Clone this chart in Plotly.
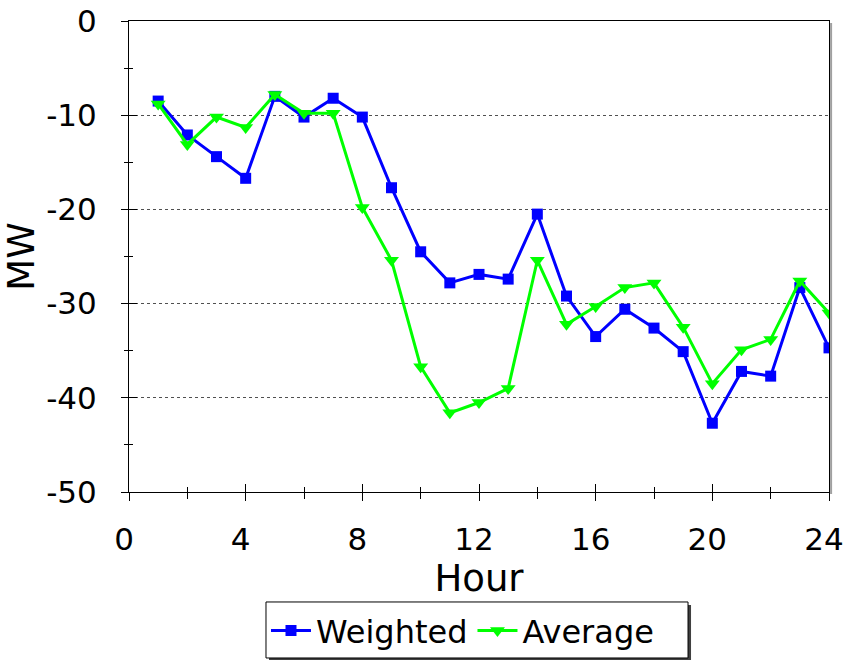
import plotly.graph_objects as go

# hourly values
hours = list(range(1, 25))
weighted = [-8.5, -12.1, -14.4, -16.7, -8.0, -10.2, -8.2, -10.2, -17.7, -24.5, -27.8, -26.9,
            -27.4, -20.5, -29.2, -33.5, -30.6, -32.6, -35.1, -42.7, -37.2, -37.7, -28.3, -34.7]
average = [-8.8, -13.1, -10.2, -11.3, -7.8, -9.8, -9.8, -19.8, -25.4, -36.7, -41.6, -40.5,
           -39.0, -25.4, -32.2, -30.3, -28.3, -27.8, -32.5, -38.5, -34.9, -33.8, -27.6, -31.0]

x_ticks = [0, 4, 8, 12, 16, 20, 24]
y_ticks = [0, -10, -20, -30, -40, -50]
y_labels = ['0', '-10', '-20', '-30', '-40', '-50']

FONT = 'DejaVu Sans, Arial, sans-serif'

fig = go.Figure()
fig.add_trace(go.Scatter(x=hours, y=weighted, name='Weighted', mode='lines+markers',
                         line=dict(color='#0000FF', width=3),
                         marker=dict(symbol='square', size=11, color='#0000FF')))
fig.add_trace(go.Scatter(x=hours, y=average, name='Average', mode='lines+markers',
                         line=dict(color='#00FF00', width=3),
                         marker=dict(symbol='triangle-down', size=13, color='#00FF00')))
# dummy trace so the overlay axes (inside half of the crossing ticks) get drawn
fig.add_trace(go.Scatter(x=[0], y=[0], xaxis='x2', yaxis='y2', mode='markers',
                         marker=dict(opacity=0), showlegend=False, hoverinfo='skip'))

fig.update_layout(
    template='none',
    width=846, height=660,
    margin=dict(l=129, r=17, t=21, b=168, autoexpand=False),
    paper_bgcolor='white', plot_bgcolor='white',
    font=dict(family=FONT, size=31, color='black'),
    showlegend=True,
    legend=dict(orientation='h', x=0.1957, xanchor='left', y=-0.236, yanchor='top',
                bgcolor='rgba(0,0,0,0)', borderwidth=0, font=dict(size=32),
                itemwidth=40, tracegroupgap=0),
    xaxis=dict(range=[0, 24], tickvals=x_ticks, showline=True, linecolor='black', linewidth=1,
               mirror=True, ticks='outside', ticklen=8, tickcolor='black',
               minor=dict(dtick=2, ticks='outside', ticklen=6, tickcolor='black'),
               showgrid=False, zeroline=False, ticklabelstandoff=12, automargin=False,
               ticklabelshift=-5, ticklabeloverflow='allow',
               title=dict(text='Hour', standoff=4)),
    yaxis=dict(range=[-50, 0], tickvals=y_ticks, ticktext=y_labels, showline=True,
               linecolor='black', linewidth=1,
               mirror=True, ticks='outside', ticklen=7, tickcolor='black',
               minor=dict(dtick=5, ticks='outside', ticklen=4, tickcolor='black', showgrid=False),
               showgrid=True, gridcolor='#505050', griddash='dot', gridwidth=1,
               zeroline=False, ticklabelstandoff=18, automargin=False,
               ticklabeloverflow='allow', title=dict(text='MW', standoff=8)),
    xaxis2=dict(range=[0, 24], overlaying='x', dtick=4, tick0=0, ticks='inside', ticklen=8,
                tickcolor='black', showticklabels=False, showgrid=False, zeroline=False,
                automargin=False,
                minor=dict(dtick=2, ticks='inside', ticklen=5, tickcolor='black')),
    yaxis2=dict(range=[-50, 0], overlaying='y', dtick=10, tick0=0, ticks='inside', ticklen=8,
                tickcolor='black', showticklabels=False, showgrid=False, zeroline=False,
                automargin=False,
                minor=dict(dtick=5, ticks='inside', ticklen=4, tickcolor='black')),
)

# light shadow on the right edge of the plot frame
fig.add_shape(type='line', xref='paper', yref='paper', x0=1.003, x1=1.003, y0=-0.004, y1=0.996,
              line=dict(color='#A0A0A0', width=2))

# legend frame with its drop shadow (legend itself is drawn borderless on top)
fig.add_shape(type='rect', xref='paper', yref='paper', x0=0.2000, x1=0.8029, y0=-0.3588, y1=-0.2399,
              fillcolor='#404040', line=dict(width=0))
fig.add_shape(type='rect', xref='paper', yref='paper', x0=0.1957, x1=0.7986, y0=-0.3524, y1=-0.2335,
              fillcolor='white', line=dict(color='black', width=1))

# drop the default body margin so the figure sits at the window's corner
fig.write_html("out.html", config={'displayModeBar': False},
               post_script="document.body.style.margin='0';")
